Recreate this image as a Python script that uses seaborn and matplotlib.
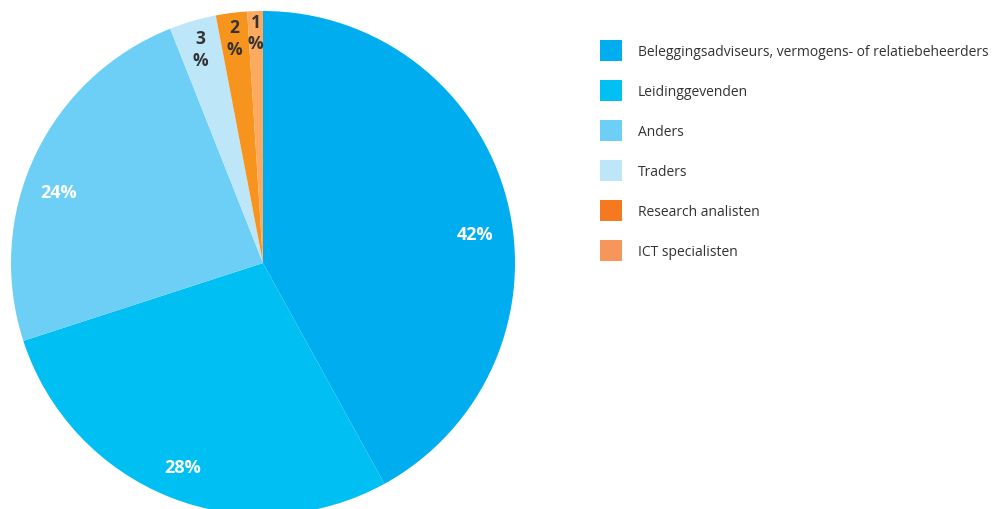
import numpy as np
import matplotlib
matplotlib.use("Agg")
import matplotlib.pyplot as plt
import seaborn as sns
from matplotlib.patches import Patch

# data
categorieen = ['Beleggingsadviseurs, vermogens- of relatiebeheerders',
               'Leidinggevenden', 'Anders', 'Traders',
               'Research analisten', 'ICT specialisten']
percentages = [42, 28, 24, 3, 2, 1]
labels = ['42%', '28%', '24%', '3\n%', '2\n%', '1\n%']

kleuren_taart = ['#00AEEF', '#00BFF3', '#6DCFF6', '#BDE6F9', '#F7941D', '#FBAA60']
kleuren_legenda = ['#00AEEF', '#00BFF3', '#6DCFF6', '#BDE6F9', '#F47920', '#F7965A']

sns.set_style("white")
plt.rcParams['font.family'] = ['Open Sans', 'DejaVu Sans']

fig = plt.figure(figsize=(9.93, 5.10), dpi=100)
W, H = 993, 510
# taart: middelpunt ~ (263, 264), straal ~252
ax = fig.add_axes([11 / W, (H - 516) / H, 504 / W, 504 / H])

wedges, _ = ax.pie(percentages, colors=kleuren_taart, startangle=90,
                   counterclock=False, radius=1.0,
                   wedgeprops=dict(linewidth=0))
ax.set_aspect('equal')
ax.set_xlim(-1, 1)
ax.set_ylim(-1, 1)
ax.axis('off')

# labels
hoek_correctie = [-6.5, 0, 6, 0, 0, 0]
afstand = [0.85, 0.87, 0.86, 0.885, 0.9, 0.915]
tekstkleur = ['white', 'white', 'white', '#333333', '#333333', '#333333']
for w, lab, dh, r, kl in zip(wedges, labels, hoek_correctie, afstand, tekstkleur):
    hoek = np.deg2rad((w.theta1 + w.theta2) / 2 + dh)
    klein = '\n' in lab
    ax.text(r * np.cos(hoek), r * np.sin(hoek), lab, ha='center', va='center',
            color=kl, fontsize=12.5 if klein else 13, fontweight='bold',
            linespacing=1.25)

handles = [Patch(facecolor=c, edgecolor='none') for c in kleuren_legenda]
fig.legend(handles, categorieen, loc='upper left',
           bbox_to_anchor=(600 / W, (H - 41) / H), frameon=False,
           fontsize=10, handlelength=1.58, handleheight=1.95,
           handletextpad=1.15, labelspacing=1.37, borderpad=0,
           borderaxespad=0, labelcolor='#333333')

fig.savefig('out.png', dpi=100)
